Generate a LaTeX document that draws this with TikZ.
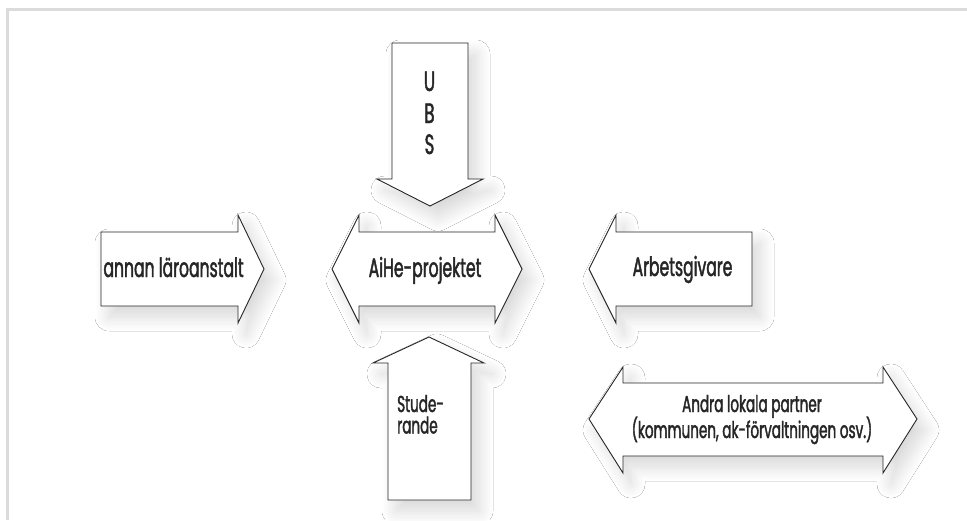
\documentclass[tikz,border=0pt]{standalone}
\usepackage{fontspec}
\setmainfont{Liberation Sans}
\newfontfamily\labelfont[FakeStretch=0.59, FakeBold=1.6]{Poppins}
\usetikzlibrary{shadows.blur}

\begin{document}
\begin{tikzpicture}[x=1pt,y=-1pt,
  block/.style={draw=black!85, line width=0.9pt, fill=white, line join=miter,
    blur shadow={shadow xshift=8pt, shadow yshift=-11pt, shadow blur radius=14pt,
                 shadow blur steps=24, shadow opacity=16}},
  frameline/.style={draw=black!14, line width=3pt},
  lbl/.style={font=\labelfont\fontsize{26.5}{26.5}\selectfont, text=black!85, inner sep=0pt, anchor=base},
  sml/.style={font=\labelfont\fontsize{23}{23}\selectfont, text=black!85, inner sep=0pt, anchor=base},
  big/.style={font=\labelfont\fontsize{28}{28}\selectfont, text=black!85, inner sep=0pt, anchor=base},
]
\useasboundingbox (0,0) rectangle (967,520);
\fill[white] (0,0) rectangle (967,520);

% open frame: top and left rules
\draw[frameline] (967,9.5) -- (7.5,9.5) -- (7.5,520);

% UBS: arrow pointing down
\path[block] (392,43) -- (468,43) -- (468,179) -- (483,179) -- (430,206)
  -- (377,179) -- (392,179) -- cycle;
% Studerande: arrow pointing up
\path[block] (388,500) -- (388,363) -- (373,363) -- (429,337) -- (484,363)
  -- (471,363) -- (471,500) -- cycle;
% annan läroanstalt: arrow pointing right
\path[block] (101,232) -- (238,232) -- (238,215) -- (264,269) -- (238,323)
  -- (238,306) -- (101,306) -- cycle;
% AiHe-projektet: double arrow
\path[block] (332,269) -- (359,215) -- (359,232) -- (495,232) -- (495,215)
  -- (522,269) -- (495,323) -- (495,306) -- (359,306) -- (359,323) -- cycle;
% Arbetsgivare: arrow pointing left
\path[block] (589,269) -- (616,215) -- (616,232) -- (752,232) -- (752,306)
  -- (616,306) -- (616,323) -- cycle;
% Andra lokala partner: double arrow
\path[block] (589,419) -- (623,367) -- (623,383) -- (883,383) -- (883,367)
  -- (917,419) -- (883,473) -- (883,456) -- (623,456) -- (623,473) -- cycle;

% labels
\node[big] (u) at (429.5,91) {U};
\node[big] (b) at (429.5,123) {B};
\node[big] (s) at (429.5,154) {S};
\node[lbl] (annan) at (173.5,277) {annan läroanstalt};
\node[lbl] (aihe) at (425,277) {AiHe-projektet};
\node[lbl] (arb) at (682.5,276) {Arbetsgivare};
\node[sml, anchor=base west] (stude) at (397,412) {Stude-};
\node[sml, anchor=base west] (rande) at (397,433.5) {rande};
\node[sml] (andra1) at (752,412) {Andra lokala partner};
\node[sml] (andra2) at (752,438) {(kommunen, ak-förvaltningen osv.)};
\end{tikzpicture}
\end{document}
